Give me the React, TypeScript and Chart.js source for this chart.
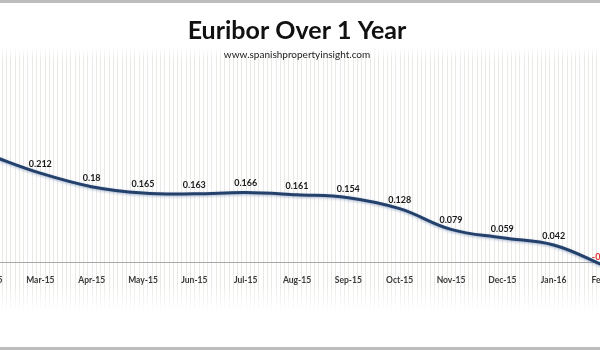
import React, { useEffect, useRef } from "react";
import { Chart, registerables } from "chart.js";

Chart.register(...registerables);

const categories = [
  "Feb-15", "Mar-15", "Apr-15", "May-15", "Jun-15", "Jul-15", "Aug-15",
  "Sep-15", "Oct-15", "Nov-15", "Dec-15", "Jan-16", "Feb-16",
];
const euribor = [0.255, 0.212, 0.18, 0.165, 0.163, 0.166, 0.161, 0.154, 0.128, 0.079, 0.059, 0.042, -0.008];

const titleText = "Euribor Over 1 Year";
const subtitleText = "www.spanishpropertyinsight.com";
const FONT = "Lato, 'Open Sans', sans-serif";

const backgroundPlugin = {
  id: "stripes",
  beforeDraw(chart: any) {
    const { ctx, width, height, chartArea, scales } = chart;
    ctx.save();
    ctx.fillStyle = "#ffffff";
    ctx.fillRect(0, 0, width, height);
    const x = scales.x;
    const step = (x.getPixelForValue(1) - x.getPixelForValue(0)) / 12;
    const top = chartArea.top - 15;
    const bottom = chartArea.bottom + 6;
    const grad = ctx.createLinearGradient(0, top, 0, bottom);
    grad.addColorStop(0, "rgba(222,218,210,0)");
    grad.addColorStop(0.05, "rgba(222,218,210,0.6)");
    grad.addColorStop(0.9, "rgba(222,218,210,0.6)");
    grad.addColorStop(1, "rgba(222,218,210,0)");
    ctx.strokeStyle = grad;
    ctx.lineWidth = 1;
    const start = x.getPixelForValue(0);
    for (let px = start - Math.ceil(start / step) * step; px < width; px += step) {
      const rx = Math.round(px) + 0.5;
      ctx.beginPath();
      ctx.moveTo(rx, top);
      ctx.lineTo(rx, bottom);
      ctx.stroke();
    }
    ctx.fillStyle = "#bdbdbd";
    ctx.fillRect(0, 0, width, 3);
    ctx.fillRect(0, height - 3, width, 3);
    ctx.restore();
  },
};

const shadowPlugin = {
  id: "lineShadow",
  beforeDatasetDraw(chart: any) {
    const ctx = chart.ctx;
    ctx.save();
    ctx.shadowColor = "rgba(90,120,170,0.55)";
    ctx.shadowBlur = 3;
    ctx.shadowOffsetY = 1;
  },
  afterDatasetDraw(chart: any) {
    chart.ctx.restore();
  },
};

const labelPlugin = {
  id: "valueLabels",
  afterDatasetsDraw(chart: any) {
    const { ctx } = chart;
    const meta = chart.getDatasetMeta(0);
    const data = chart.data.datasets[0].data as number[];
    ctx.save();
    ctx.font = `bold 9px ${FONT}`;
    ctx.textAlign = "center";
    ctx.textBaseline = "middle";
    meta.data.forEach((pt: any, i: number) => {
      const v = data[i];
      ctx.fillStyle = v < 0 ? "#e03030" : "#1a1a1a";
      ctx.fillText(String(v), pt.x, pt.y - 9);
    });
    ctx.restore();
  },
};

export default function App() {
  const ref = useRef<HTMLCanvasElement | null>(null);
  useEffect(() => {
    document.body.style.margin = "0";
    const chart = new Chart(ref.current!, {
      type: "line",
      data: {
        labels: categories,
        datasets: [
          {
            data: euribor,
            borderColor: "#24416b",
            borderWidth: 3,
            pointRadius: 0,
            tension: 0.4,
            fill: false,
          },
        ],
      },
      options: {
        animation: false,
        responsive: true,
        maintainAspectRatio: false,
        layout: { padding: { left: 39, right: 45, top: 0, bottom: 45 } },
        plugins: {
          legend: { display: false },
          tooltip: { enabled: false },
          title: {
            display: true,
            text: titleText,
            color: "#111111",
            font: { family: FONT, size: 25, weight: "bold" },
            padding: { top: 16, bottom: 3 },
          },
          subtitle: {
            display: true,
            text: subtitleText,
            color: "#222222",
            font: { family: FONT, size: 10 },
            padding: { top: 0, bottom: 1 },
          },
        },
        scales: {
          x: {
            type: "category",
            offset: false,
            position: { y: 0 } as any,
            grid: { display: false, drawTicks: false },
            border: { display: true, color: "#a8a8a8", width: 1 },
            ticks: {
              color: "#3a3a3a",
              font: { family: FONT, size: 8.5, weight: "bold" },
              padding: 12,
              maxRotation: 0,
              autoSkip: false,
            },
          },
          y: {
            display: false,
            min: -0.1,
            max: 0.475,
          },
        },
      },
      plugins: [backgroundPlugin, shadowPlugin, labelPlugin],
    });
    return () => chart.destroy();
  }, []);
  return (
    <div style={{ position: "relative", width: 600, height: 350, overflow: "hidden" }}>
      <div style={{ position: "absolute", left: -50, top: 0, width: 700, height: 350 }}>
        <canvas ref={ref} />
      </div>
    </div>
  );
}
